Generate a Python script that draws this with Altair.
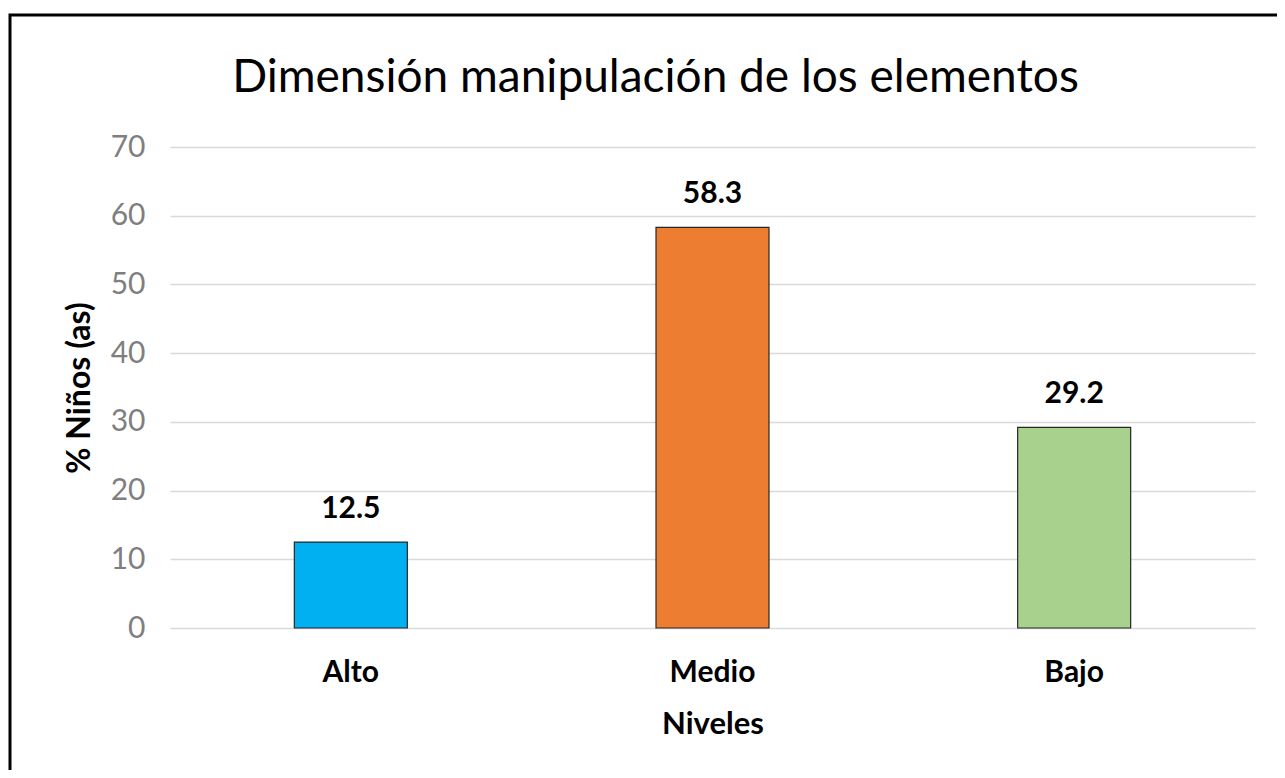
import altair as alt
import pandas as pd

niveles = ["Alto", "Medio", "Bajo"]
valores = [12.5, 58.3, 29.2]
colores = ["#00B0F0", "#ED7D31", "#A9D18E"]
y_ticks = [0, 10, 20, 30, 40, 50, 60, 70]

df = pd.DataFrame({"Nivel": niveles, "Valor": valores, "Color": colores})
df["Etiqueta"] = [f"{v:.1f}" for v in valores]

FONT = "Lato"

x = alt.X("Nivel:N", sort=niveles, title="Niveles",
          scale=alt.Scale(paddingInner=0, paddingOuter=0),
          axis=alt.Axis(labelAngle=0, labelFontWeight="bold", labelFontSize=30,
                        labelColor="#000000", labelPadding=29, domain=False, ticks=False,
                        titleFontSize=31, titleFontWeight="bold", titlePadding=22,
                        titleColor="#000000"))
y = alt.Y("Valor:Q", title="% Niños (as)",
          scale=alt.Scale(domain=[0, 70], nice=False),
          axis=alt.Axis(values=y_ticks, domain=False, ticks=False, labelFontSize=30,
                        labelColor="#7F7F7F", labelPadding=25, gridColor="#D9D9D9",
                        gridWidth=1.5, titleFontSize=32, titleFontWeight="bold",
                        titleColor="#000000", titlePadding=14))

bars = alt.Chart(df).mark_bar(size=113, stroke="#262626", strokeWidth=1.2).encode(
    x=x, y=y, color=alt.Color("Color:N", scale=None)
)

labels = alt.Chart(df).mark_text(fontWeight="bold", fontSize=30, dy=-24,
                                 baseline="alphabetic", color="#000000", font=FONT).encode(
    x=alt.X("Nivel:N", sort=niveles), y=alt.Y("Valor:Q"), text="Etiqueta:N"
)

frame = alt.Chart(pd.DataFrame({"a": [0]})).mark_rect(
    fill=None, stroke="#000000", strokeWidth=3, clip=False
).encode(x=alt.value(-160), x2=alt.value(1125), y=alt.value(-132), y2=alt.value(640))

chart = alt.layer(bars, labels, frame).properties(
    width=1085, height=481,
    title=alt.TitleParams("Dimensión manipulación de los elementos", fontSize=46,
                          fontWeight="normal", font=FONT, color="#000000",
                          anchor="middle", frame="group", dx=-57, offset=-88),
    autosize=alt.AutoSizeParams(type="none"),
    padding={"left": 162, "top": 139, "right": 22, "bottom": 142},
).configure(font=FONT).configure_view(stroke=None).configure_axis(labelFont=FONT, titleFont=FONT)

chart.save("out.html", embed_options={"renderer": "svg", "actions": False})
